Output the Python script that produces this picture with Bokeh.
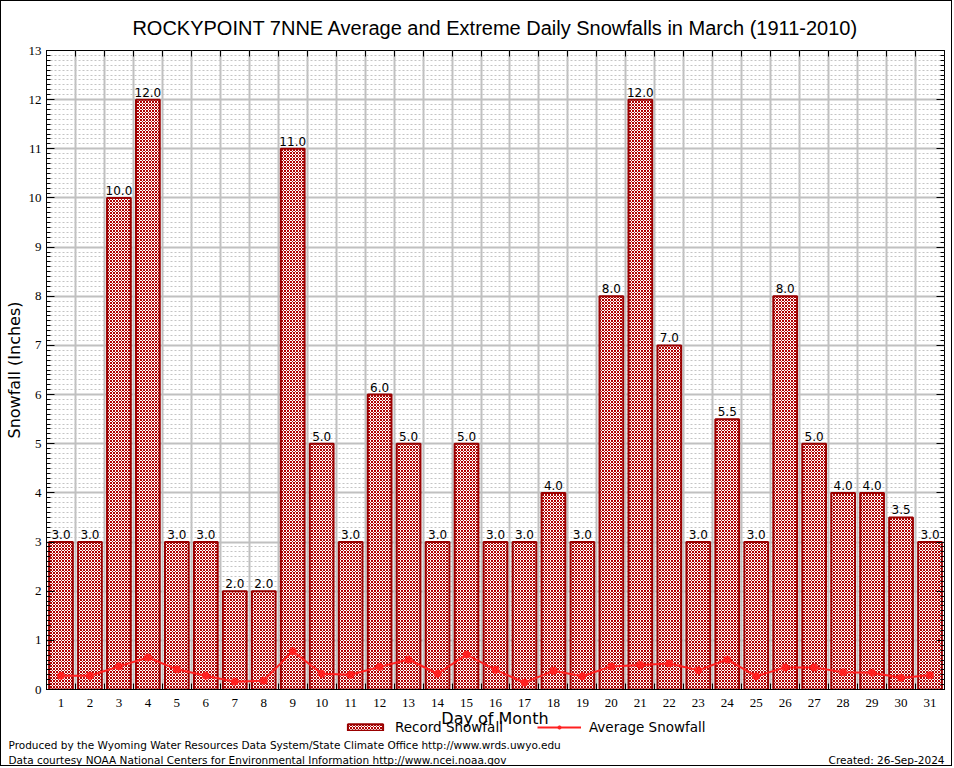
from bokeh.plotting import figure
from bokeh.models import (Range1d, FixedTicker, LinearAxis, ColumnDataSource, LabelSet,
                          Label, Legend, LegendItem, SingleIntervalTicker)
from bokeh.core.properties import value
from bokeh.embed import file_html
from bokeh.resources import INLINE

days = list(range(1, 32))
record = [3.0, 3.0, 10.0, 12.0, 3.0, 3.0, 2.0, 2.0, 11.0, 5.0, 3.0, 6.0, 5.0, 3.0, 5.0, 3.0,
          3.0, 4.0, 3.0, 8.0, 12.0, 7.0, 3.0, 5.5, 3.0, 8.0, 5.0, 4.0, 4.0, 3.5, 3.0]
average = [0.28, 0.28, 0.47, 0.65, 0.41, 0.28, 0.16, 0.18, 0.78, 0.32, 0.30, 0.46, 0.61, 0.32,
           0.71, 0.40, 0.14, 0.38, 0.27, 0.47, 0.50, 0.53, 0.39, 0.61, 0.27, 0.45, 0.45, 0.35,
           0.34, 0.24, 0.29]
bar_labels = [f"{v:.1f}" for v in record]
boundaries = [d + 0.5 for d in days[:-1]]

TITLE = "ROCKYPOINT 7NNE Average and Extreme Daily Snowfalls in March (1911-2010)"
XLABEL = "Day of Month"
FOOT1 = "Produced by the Wyoming Water Resources Data System/State Climate Office http://www.wrds.uwyo.edu"
FOOT2 = "Data courtesy NOAA National Centers for Environmental Information http://www.ncei.noaa.gov"
FOOT3 = "Created: 26-Sep-2024"

W = 952
ML, MR, MT, FRAME_H, MB = 44, 9, 49, 641, 18
MAIN_H = MT + FRAME_H + MB
FOOT_H = 766 - MAIN_H
FRAME_CX = ML + (W - ML - MR) / 2

src = ColumnDataSource(dict(day=days, record=record, average=average, lbl=bar_labels))

p = figure(width=W, height=MAIN_H, output_backend="svg", toolbar_location=None,
           x_range=Range1d(0.5, 31.5), y_range=Range1d(0, 13), title=TITLE,
           min_border_left=ML, min_border_right=MR, min_border_top=MT, min_border_bottom=MB,
           styles={"border": "1px solid black", "border-bottom": "none"})
p.title.align = "center"
p.title.text_font = "Liberation Sans"
p.title.text_font_size = "20px"
p.title.text_font_style = "normal"
p.title.text_color = "black"
p.title.offset = 0
p.title.standoff = 23

p.outline_line_color = "black"
p.outline_line_width = 1

# x axis (labels at day centers, inward ticks at bar boundaries)
xa = p.xaxis[0]
xa.ticker = FixedTicker(ticks=days, minor_ticks=boundaries)
xa.major_tick_line_color = None
xa.minor_tick_in = 6
xa.minor_tick_out = 0
xa.minor_tick_line_color = "black"
xa.axis_line_color = "black"
xa.major_label_text_font = "Liberation Serif"
xa.major_label_text_font_size = "13px"
xa.major_label_text_color = "black"
xa.major_label_standoff = 3

ya = p.yaxis[0]
ya.ticker = SingleIntervalTicker(interval=1, num_minor_ticks=10)
ya.major_tick_in = 8
ya.major_tick_out = 0
ya.minor_tick_in = 4
ya.minor_tick_out = 0
ya.axis_line_color = "black"
ya.major_label_text_font = "Liberation Serif"
ya.major_label_text_font_size = "13px"
ya.major_label_text_color = "black"
ya.major_label_standoff = 5
ya.axis_label = "Snowfall (Inches)"
ya.axis_label_text_font = "DejaVu Sans"
ya.axis_label_text_font_size = "16px"
ya.axis_label_text_font_style = "normal"
ya.axis_label_text_color = "black"
ya.axis_label_standoff = 2

ra = LinearAxis(ticker=SingleIntervalTicker(interval=1, num_minor_ticks=10),
                major_tick_in=8, major_tick_out=0, minor_tick_in=4, minor_tick_out=0,
                major_label_text_color=None, major_label_text_font_size="2px",
                axis_line_color=None, major_label_standoff=0)
p.add_layout(ra, "right")
ta = LinearAxis(ticker=FixedTicker(ticks=boundaries), major_tick_in=6, major_tick_out=0,
                minor_tick_line_color=None, major_label_text_color=None,
                major_label_text_font_size="2px", axis_line_color=None,
                major_label_standoff=0)
p.add_layout(ta, "above")

# grids
p.xgrid.ticker = FixedTicker(ticks=boundaries)
p.xgrid.grid_line_color = "#c0c0c0"
p.xgrid.grid_line_width = 2
p.ygrid.grid_line_color = "#c0c0c0"
p.ygrid.grid_line_width = 2
p.ygrid.minor_grid_line_color = "#c4c4c4"
p.ygrid.minor_grid_line_dash = "2 2"
p.ygrid.minor_grid_line_width = 1

BAR_STYLE = dict(fill_color="white", line_color="#990000", line_width=2, hatch_pattern="x",
                 hatch_color="#b00000", hatch_scale=3, hatch_weight=1)
LINE_STYLE = dict(line_color="#ff2020", line_width=2)
PT_STYLE = dict(size=7, fill_color="#ff2020", line_color="#ff2020")

p.vbar(x="day", top="record", width=0.82, source=src, **BAR_STYLE)
p.line(x="day", y="average", source=src, **LINE_STYLE)
p.scatter(x="day", y="average", source=src, **PT_STYLE)

p.add_layout(LabelSet(x="day", y="record", text="lbl", source=src, text_align="center",
                      text_baseline="bottom", y_offset=3, text_font=value("DejaVu Sans"),
                      text_font_size=value("12px"), text_color=value("black")))

# footer strip (separate root): x-axis title, legend and credits
# (glyphs drawn out of view only to feed the legend)
f = figure(width=W, height=FOOT_H, output_backend="svg", toolbar_location=None,
           x_range=Range1d(1000, 1001), y_range=Range1d(1000, 1001),
           x_axis_type=None, y_axis_type=None,
           min_border_left=0, min_border_right=0, min_border_top=0, min_border_bottom=0,
           outline_line_color=None,
           styles={"border": "1px solid black", "border-top": "none"})
f.grid.visible = False
fb = f.vbar(x="day", top="record", width=0.82, source=src, **BAR_STYLE)
fl = f.line(x="day", y="average", source=src, **LINE_STYLE)
fp = f.scatter(x="day", y="average", source=src, **PT_STYLE)

legend = Legend(items=[LegendItem(label="Record Snowfall", renderers=[fb]),
                       LegendItem(label="Average Snowfall", renderers=[fl, fp])],
                orientation="horizontal", location=(342, FOOT_H - 27), border_line_color=None,
                background_fill_alpha=0, label_text_font="DejaVu Sans",
                label_text_font_size="13.5px", label_text_color="black",
                glyph_width=44, glyph_height=8, label_height=14,
                spacing=34, padding=0, margin=0, label_standoff=8)
f.add_layout(legend, "center")

f.add_layout(Label(x=FRAME_CX, y=FOOT_H, x_units="screen", y_units="screen",
                   text=XLABEL, text_align="center", text_baseline="top",
                   text_font="DejaVu Sans", text_font_size="16px", text_color="black"))

for txt, x, y, align in [(FOOT1, 7, FOOT_H - 36, "left"), (FOOT2, 7, FOOT_H - 51, "left"),
                         (FOOT3, W - 9, FOOT_H - 51, "right")]:
    f.add_layout(Label(x=x, y=y, x_units="screen", y_units="screen", text=txt,
                       text_align=align, text_baseline="middle", text_font="DejaVu Sans",
                       text_font_size="10.5px", text_color="black"))

open("out.html", "w").write(file_html([p, f], INLINE))
